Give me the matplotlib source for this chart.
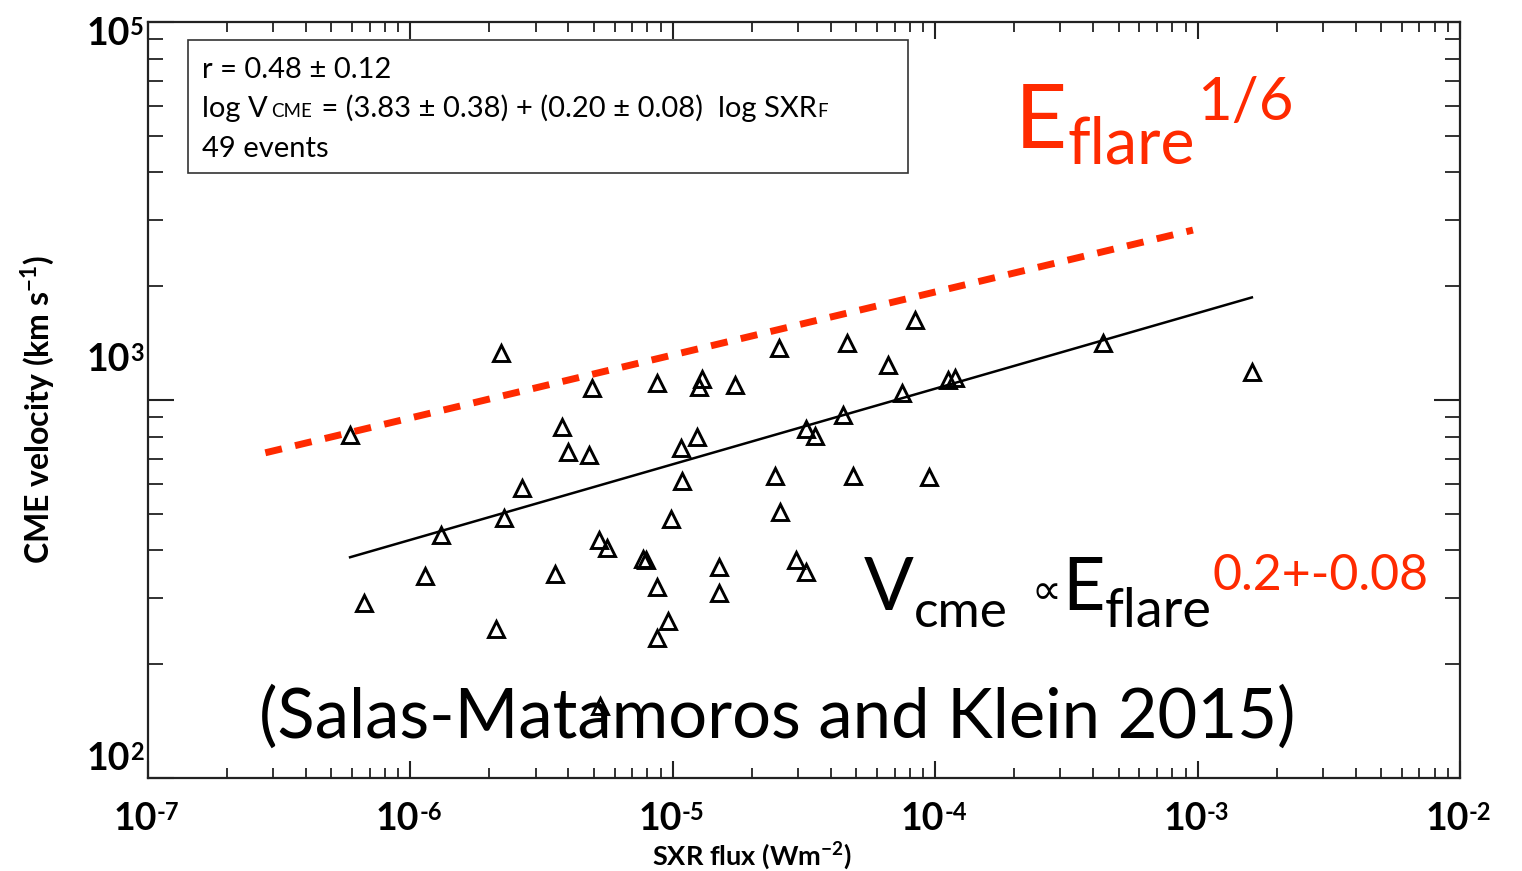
import numpy as np
import matplotlib
matplotlib.use("Agg")
import matplotlib.pyplot as plt
from matplotlib.patches import Rectangle

plt.rcParams['font.family'] = ['Lato', 'DejaVu Sans']
plt.rcParams['mathtext.fontset'] = 'custom'
plt.rcParams['mathtext.rm'] = 'Lato'
plt.rcParams['mathtext.bf'] = 'Lato:bold'

# SXR peak flux (W m^-2) and CME speed (km/s)
sxr_flux = [5.89e-7, 6.66e-7, 1.14e-6, 1.31e-6, 2.12e-6, 2.21e-6, 2.27e-6, 2.66e-6,
            3.56e-6, 3.78e-6, 3.99e-6, 4.79e-6, 4.92e-6, 5.23e-6, 5.61e-6, 5.28e-6,
            7.70e-6, 7.91e-6, 8.71e-6, 8.71e-6, 8.71e-6, 9.59e-6, 9.84e-6, 1.075e-5,
            1.084e-5, 1.237e-5, 1.259e-5, 1.292e-5, 1.726e-5, 1.50e-5, 1.50e-5, 2.45e-5,
            2.54e-5, 2.56e-5, 2.95e-5, 3.22e-5, 3.22e-5, 3.48e-5, 4.45e-5, 4.61e-5,
            4.86e-5, 6.61e-5, 7.47e-5, 8.38e-5, 9.47e-5, 1.119e-4, 1.19e-4, 4.36e-4,
            1.61e-3]
cme_speed = [808, 290, 342, 439, 248, 1331, 487, 585,
             347, 848, 729, 715, 1076, 426, 406, 155,
             380, 377, 1109, 320, 235, 260, 484, 746,
             611, 798, 1082, 1136, 1096, 362, 309, 630,
             1373, 506, 377, 351, 838, 803, 913, 1415,
             630, 1238, 1043, 1628, 626, 1129, 1143, 1415,
             1186]

# fit: log V = 3.83 + 0.20 log SXR
fit_a, fit_b = 3.83, 0.20
# E^(1/6) guide line
guide_x = [2.8e-7, 9.6e-4]
guide_v0 = 725
guide_pow = 1 / 6

xtick_vals = [1e-7, 1e-6, 1e-5, 1e-4, 1e-3, 1e-2]
xtick_exps = ['-7', '-6', '-5', '-4', '-3', '-2']
ytick_vals = [1e2, 1e3, 1e4]
ytick_exps = ['2', '3', '5']
ytick_dy = [8, 29, -23]   # label baseline shift in pixels

W, H = 1522, 871
fig = plt.figure(figsize=(W / 100, H / 100), dpi=100)
ax = fig.add_axes([148 / W, 93 / H, 1312 / W, 756 / H])
ax.set_xscale('log')
ax.set_yscale('log')
ax.set_xlim(1e-7, 1e-2)
ax.set_ylim(1e2, 1e4)

ink = '#222222'
for s in ax.spines.values():
    s.set_linewidth(1.6)
    s.set_color(ink)

ax.plot(sxr_flux, cme_speed, linestyle='none', marker='^', markersize=11,
        markerfacecolor='none', markeredgecolor='black', markeredgewidth=2.1, zorder=3)

fx = np.array([min(sxr_flux), max(sxr_flux)])
ax.plot(fx, 10 ** (fit_a + fit_b * np.log10(fx)), color='black', lw=1.8, zorder=2)

gx = np.array(guide_x)
ax.plot(gx, guide_v0 * (gx / gx[0]) ** guide_pow, color='#ff2a00', lw=5,
        linestyle=(0, (2.45, 1.95)), dash_capstyle='butt', zorder=4)

# ticks
ax.set_xticks(xtick_vals, [''] * len(xtick_vals))
ax.tick_params(axis='x', which='major', direction='in', length=12, width=1.5,
               top=True, colors=ink)
ax.tick_params(axis='x', which='minor', direction='in', length=7, width=1.3,
               top=True, colors=ink)
ax.set_yticks(ytick_vals, [''] * len(ytick_vals))
ax.tick_params(axis='y', which='major', direction='in', length=19, width=1.5,
               right=True, colors=ink)
ax.tick_params(axis='y', which='minor', direction='in', length=11, width=1.3,
               right=True, colors=ink)
ax.yaxis.set_minor_formatter(matplotlib.ticker.NullFormatter())
ax.xaxis.set_minor_formatter(matplotlib.ticker.NullFormatter())

tick_font = dict(fontsize=27, weight='bold', color='black')
exp_font = dict(fontsize=17, weight='bold', color='black')
for v, e in zip(xtick_vals, xtick_exps):
    t = ax.annotate('10', xy=(v, 0), xycoords=('data', 'axes fraction'),
                    xytext=(9, -52), textcoords='offset pixels',
                    ha='right', va='baseline', annotation_clip=False, **tick_font)
    ax.annotate(e, xy=(1, 0), xycoords=t, xytext=(0, 16), textcoords='offset pixels',
                ha='left', va='baseline', **exp_font)
for v, e, dy in zip(ytick_vals, ytick_exps, ytick_dy):
    t = ax.annotate('10', xy=(0, v), xycoords=('axes fraction', 'data'),
                    xytext=(-18, dy), textcoords='offset pixels',
                    ha='right', va='baseline', **tick_font)
    ax.annotate(e, xy=(1, 0), xycoords=t, xytext=(0, 16), textcoords='offset pixels',
                ha='left', va='baseline', **exp_font)

ax.set_ylabel(r'CME velocity (km s$^{\mathregular{-1}}$)', fontsize=23, weight='bold')
ax.yaxis.set_label_coords(-0.069, 0.487)
ax.set_xlabel(r'SXR flux (Wm$^{\mathregular{-2}}$)', fontsize=19.5, weight='bold')
ax.xaxis.set_label_coords(0.460, -0.0807)

# stats box
ax.add_patch(Rectangle((40 / 1312, 1 - 151 / 756), 720 / 1312, 133 / 756,
                       transform=ax.transAxes, fill=False, edgecolor='#333333', lw=1.2))


def put(s, x, y_img, prev=None, gap=0, **kw):
    if prev is None:
        return fig.text(x / W, 1 - y_img / H, s, va='baseline', **kw)
    return ax.annotate(s, xy=(1, H - y_img), xycoords=(prev, 'figure pixels'),
                       xytext=(gap, 0), textcoords='offset pixels',
                       va='baseline', annotation_clip=False, **kw)


put('r = 0.48 ± 0.12', 202, 78, fontsize=21)
t = put('log V', 202, 117, fontsize=21)
t = put('CME', 0, 117, prev=t, gap=3, fontsize=13.5)
t = put(' = (3.83 ± 0.38) + (0.20 ± 0.08)  log SXR', 0, 117, prev=t, gap=2, fontsize=21)
put('F', 0, 117, prev=t, gap=1, fontsize=13.5)
put('49 events', 202, 157, fontsize=21)

red = '#ff2a00'
t = put('E', 1015, 148, fontsize=65, color=red)
t = put('flare', 0, 163, prev=t, gap=0, fontsize=46.5, color=red)
put('1/6', 0, 120, prev=t, gap=2, fontsize=43, color=red)

t = put('V', 864, 610, fontsize=53)
put('cme', 0, 627, prev=t, gap=0, fontsize=37)
put('∝', 1031, 604, fontsize=30)
t = put('E', 1062, 610, fontsize=53)
t = put('flare', 0, 627, prev=t, gap=0, fontsize=39)
put('0.2+-0.08', 0, 590, prev=t, gap=1, fontsize=36, color=red)

put('(Salas-Matamoros and Klein 2015)', 777, 738, fontsize=49.5, ha='center')

fig.savefig('out.png', dpi=100, facecolor='white')
